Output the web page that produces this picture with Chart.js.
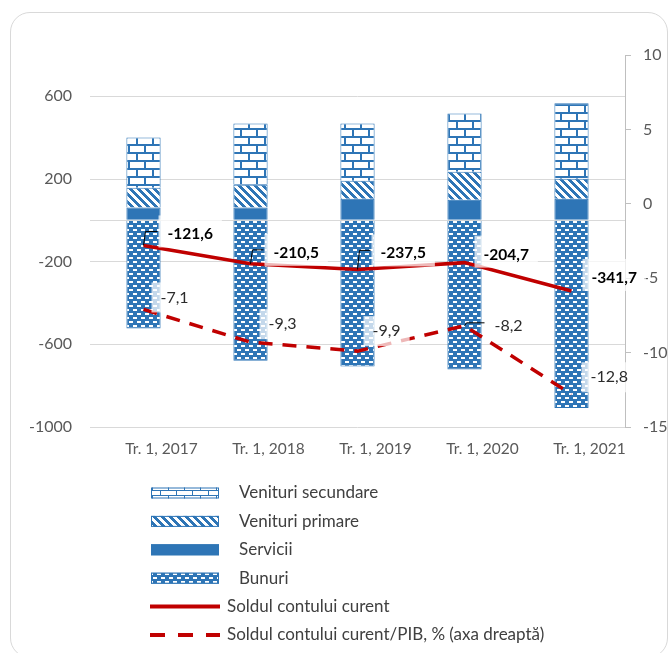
<!DOCTYPE html>
<html>
<head>
<meta charset="utf-8">
<script src="https://cdn.jsdelivr.net/npm/chart.js@4.4.1/dist/chart.umd.min.js"></script>
<style>
  html, body { margin: 0; padding: 0; background: #fff; }
  .wrap { position: relative; width: 670px; height: 653px; overflow: hidden; }
  .card { position: absolute; left: 10px; top: 12px; width: 656px; height: 644px; border: 1.5px solid #d9d9d9; border-radius: 20px; }
  canvas { position: absolute; left: 0; top: 0; }
</style>
</head>
<body>
<div class="wrap">
  <div class="card"></div>
  <canvas id="chart" width="670" height="653"></canvas>
</div>
<script>
// Data
const categories = ['Tr. 1, 2017', 'Tr. 1, 2018', 'Tr. 1, 2019', 'Tr. 1, 2020', 'Tr. 1, 2021'];
const servicii = [62, 62, 104, 100, 104];
const venituriPrimare = [96, 110, 88, 135, 97];
const venituriSecundare = [243, 297, 277, 282, 365];
const bunuri = [-523, -680, -707, -722, -908];
const soldCurent = [-121.6, -210.5, -237.5, -204.7, -341.7];
const soldPib = [-7.1, -9.3, -9.9, -8.2, -12.8];
const leftTicks = [-1000, -600, -200, 0, 200, 600];
const rightTicks = [-15, -10, -5, 0, 5, 10];

const BLUE = '#2E75B6';
const RED = '#C00000';

const canvas = document.getElementById('chart');
const ctx = canvas.getContext('2d');

// Pattern tiles (Excel-like fills)
function makeTile(w, h, draw) {
    const c = document.createElement('canvas');
    c.width = w;
    c.height = h;
    const g = c.getContext('2d');
    g.fillStyle = BLUE;
    g.fillRect(0, 0, w, h);
    g.fillStyle = '#fff';
    draw(g);
    return ctx.createPattern(c, 'repeat');
}

const brickFill = makeTile(16, 16, g => {
    g.fillRect(2, 2, 14, 6);
    g.fillRect(0, 10, 8, 6);
    g.fillRect(10, 10, 6, 6);
});
const brickLegend = makeTile(16, 10, g => {
    g.fillRect(1, 1, 15, 4);
    g.fillRect(0, 6, 8, 4);
    g.fillRect(9, 6, 7, 4);
});
const diagFill = makeTile(8, 8, g => {
    for (let y = 0; y < 8; y++) {
        for (let x = 0; x < 8; x++) {
            if (((x - y) % 8 + 8) % 8 < 4) g.fillRect(x, y, 1, 1);
        }
    }
});
const dashFill = makeTile(8, 8, g => {
    g.fillRect(1, 1, 4, 2);
    g.fillRect(5, 5, 3, 2);
    g.fillRect(0, 5, 1, 2);
});

// Label placement relative to each point
const labelSpecs = [
    {
        dataset: 4,
        font: 'bold 15.5px Lato',
        color: '#000',
        boxH: 32,
        boxShift: -3,
        offsets: [[24, -11], [23, -11], [23, -16], [19, -8], [20, -13]],
        leaders: [true, true, true, false, false]
    },
    {
        dataset: 5,
        font: '16px Lato',
        color: '#2b2b2b',
        boxH: 30,
        boxShift: 0,
        offsets: [[17, -12], [18, -18], [15, -20], [30, 0], [19, -17]],
        leaders: [false, false, false, true, false]
    }
];

const lineLabels = {
    id: 'lineLabels',
    afterDatasetsDraw(chart) {
        const c = chart.ctx;
        c.save();
        labelSpecs.forEach(spec => {
            const meta = chart.getDatasetMeta(spec.dataset);
            const values = chart.data.datasets[spec.dataset].data;
            meta.data.forEach((pt, i) => {
                const text = values[i].toFixed(1).replace('.', ',');
                c.font = spec.font;
                const w = c.measureText(text).width;
                const tx = pt.x + spec.offsets[i][0];
                const ty = pt.y + spec.offsets[i][1];
                c.fillStyle = 'rgba(255,255,255,0.72)';
                c.fillRect(tx - 9, ty + spec.boxShift - spec.boxH / 2, w + 18, spec.boxH);
                if (spec.leaders[i]) {
                    c.strokeStyle = '#000';
                    c.lineWidth = 1;
                    c.beginPath();
                    c.moveTo(pt.x, pt.y);
                    c.lineTo(pt.x + 2, ty - 3);
                    c.lineTo(tx - 10, ty - 3);
                    c.stroke();
                }
                c.fillStyle = spec.color;
                c.textBaseline = 'middle';
                c.textAlign = 'left';
                c.fillText(text, tx, ty);
            });
        });
        c.restore();
    }
};

// Legend, one item per row
const legendItems = [
    { text: 'Venituri secundare', fill: brickLegend },
    { text: 'Venituri primare', fill: diagFill },
    { text: 'Servicii', fill: BLUE },
    { text: 'Bunuri', fill: dashFill },
    { text: 'Soldul contului curent', line: [] },
    { text: 'Soldul contului curent/PIB, % (axa dreaptă)', line: [15, 13] }
];

const customLegend = {
    id: 'customLegend',
    afterDraw(chart) {
        const c = chart.ctx;
        c.save();
        c.font = '17px Lato';
        c.textBaseline = 'middle';
        legendItems.forEach((item, i) => {
            const y = 493 + i * 28.4;
            if (item.fill) {
                c.fillStyle = item.fill;
                c.fillRect(151, y - 5.5, 68, 11);
                c.strokeStyle = BLUE;
                c.lineWidth = 1;
                c.strokeRect(151.5, y - 5, 67, 10);
                c.fillStyle = '#404040';
                c.fillText(item.text, 239, y);
            } else {
                c.strokeStyle = RED;
                c.lineWidth = 4;
                c.setLineDash(item.line);
                c.beginPath();
                c.moveTo(150, y);
                c.lineTo(220, y);
                c.stroke();
                c.setLineDash([]);
                c.fillStyle = '#404040';
                c.fillText(item.text, 227, y);
            }
        });
        c.restore();
    }
};

Chart.defaults.font.family = 'Lato';
Chart.defaults.font.size = 16;
Chart.defaults.color = '#595959';

const barCommon = {
    type: 'bar',
    yAxisID: 'y',
    borderColor: BLUE,
    borderWidth: 1,
    barPercentage: 0.32,
    categoryPercentage: 1,
    order: 2
};

new Chart(canvas, {
    data: {
        labels: categories,
        datasets: [
            Object.assign({ label: 'Servicii', data: servicii, backgroundColor: BLUE }, barCommon),
            Object.assign({ label: 'Venituri primare', data: venituriPrimare, backgroundColor: diagFill }, barCommon),
            Object.assign({ label: 'Venituri secundare', data: venituriSecundare, backgroundColor: brickFill }, barCommon),
            Object.assign({ label: 'Bunuri', data: bunuri, backgroundColor: dashFill }, barCommon),
            {
                type: 'line',
                label: 'Soldul contului curent',
                data: soldCurent,
                yAxisID: 'y',
                borderColor: RED,
                borderWidth: 3.5,
                pointRadius: 0,
                tension: 0,
                order: 1
            },
            {
                type: 'line',
                label: 'Soldul contului curent/PIB, % (axa dreaptă)',
                data: soldPib,
                yAxisID: 'y1',
                borderColor: RED,
                borderWidth: 3.5,
                borderDash: [14, 10],
                pointRadius: 0,
                tension: 0,
                order: 1
            }
        ]
    },
    options: {
        responsive: false,
        animation: false,
        devicePixelRatio: 1,
        events: [],
        layout: { padding: { left: 0, right: 0, top: 55, bottom: 186 } },
        plugins: {
            legend: { display: false },
            tooltip: { enabled: false }
        },
        scales: {
            x: {
                stacked: true,
                grid: { display: false, drawTicks: false },
                border: { display: false },
                ticks: { padding: 13, labelOffset: 18, font: { size: 15.5 } },
                afterFit: s => { s.height = 40; }
            },
            y: {
                position: 'left',
                stacked: true,
                min: -1000,
                max: 800,
                afterBuildTicks: s => { s.ticks = leftTicks.map(v => ({ value: v })); },
                ticks: {
                    padding: 18,
                    callback: v => (v === 0 ? '' : String(v))
                },
                grid: { color: '#d9d9d9', lineWidth: 1, drawTicks: false },
                border: { display: false },
                afterFit: s => { s.width = 90; }
            },
            y1: {
                position: 'right',
                min: -15,
                max: 10,
                afterBuildTicks: s => { s.ticks = rightTicks.map(v => ({ value: v })); },
                ticks: { padding: 12, callback: v => String(v) },
                grid: { drawOnChartArea: false, drawTicks: true, tickLength: 6, color: '#bfbfbf' },
                border: { display: true, color: '#bfbfbf' },
                afterFit: s => { s.width = 45; }
            }
        }
    },
    plugins: [lineLabels, customLegend]
});
</script>
</body>
</html>
